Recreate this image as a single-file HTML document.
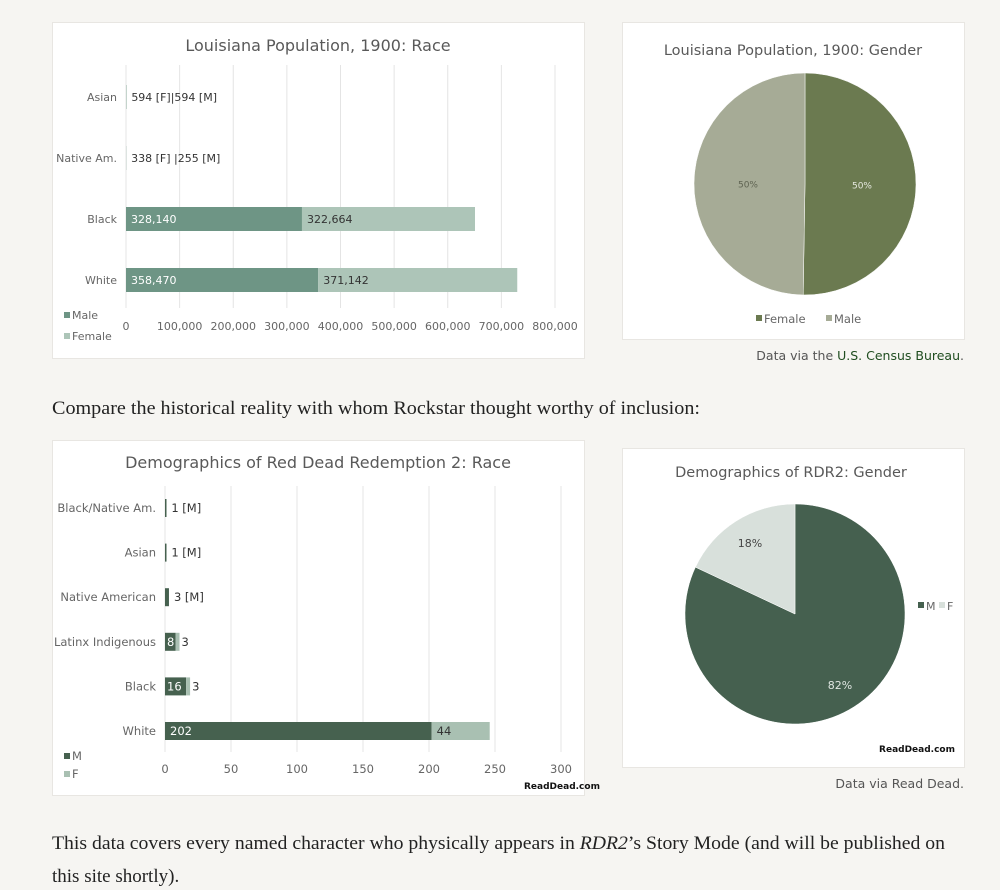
<!DOCTYPE html>
<html><head><meta charset="utf-8"><style>
html,body{margin:0;padding:0;background:#f6f5f2;}
svg{display:block;}
.sans{font-family:"DejaVu Sans","Liberation Sans",sans-serif;}
.serif{font-family:"Liberation Serif",serif;}
</style></head><body>
<svg id="page" width="1000" height="890" viewBox="0 0 1000 890" xmlns="http://www.w3.org/2000/svg">
<rect x="0" y="0" width="1000" height="890" fill="#f6f5f2"/>
<!-- boxes -->
<rect x="52.5" y="22.5" width="532" height="336" fill="#fff" stroke="#e8e6e2"/>
<rect x="622.5" y="22.5" width="342" height="317" fill="#fff" stroke="#e8e6e2"/>
<rect x="52.5" y="440.5" width="532" height="355" fill="#fff" stroke="#e8e6e2"/>
<rect x="622.5" y="448.5" width="342" height="319" fill="#fff" stroke="#e8e6e2"/>
<g id="c1"></g><g id="c2"></g><g id="c3"></g><g id="c4"></g>
<text class="sans" x="318" y="51" font-size="16" fill="#595959" text-anchor="middle">Louisiana Population, 1900: Race</text>
<text class="sans" x="318" y="468" font-size="16" fill="#595959" text-anchor="middle">Demographics of Red Dead Redemption 2: Race</text>
<text class="sans" x="793" y="55" font-size="14.5" fill="#595959" text-anchor="middle">Louisiana Population, 1900: Gender</text>
<text class="sans" x="791" y="477" font-size="14.5" fill="#595959" text-anchor="middle">Demographics of RDR2: Gender</text>
<text class="sans" x="964" y="360" font-size="12.5" fill="#555" text-anchor="end">Data via the <tspan fill="#1f4d1f">U.S. Census Bureau</tspan>.</text>
<text class="sans" x="964" y="788" font-size="12.5" fill="#555" text-anchor="end">Data via Read Dead.</text>
<text class="serif" x="52" y="414" font-size="19" fill="#222" textLength="648" lengthAdjust="spacingAndGlyphs">Compare the historical reality with whom Rockstar thought worthy of inclusion:</text>
<text class="serif" x="52" y="849" font-size="19" fill="#222" textLength="893" lengthAdjust="spacingAndGlyphs">This data covers every named character who physically appears in <tspan font-style="italic">RDR2</tspan>’s Story Mode (and will be published on</text>
<text class="serif" x="52" y="882" font-size="19" fill="#222">this site shortly).</text>
</svg>
<script>
const NS='http://www.w3.org/2000/svg';
// Chart 1: Louisiana race
const laCats=['Asian','Native Am.','Black','White'];
const laMale=[594,255,328140,358470];
const laFemale=[594,338,322664,371142];
const laTicks=[0,100000,200000,300000,400000,500000,600000,700000,800000];
const laNotes=['594 [F]|594 [M]','338 [F] |255 [M]','',''];
// Chart 3: RDR2 race
const rdCats=['Black/Native Am.','Asian','Native American','Latinx Indigenous','Black','White'];
const rdMale=[1,1,3,8,16,202];
const rdFemale=[0,0,0,3,3,44];
const rdTicks=[0,50,100,150,200,250,300];
const rdNotes=['1 [M]','1 [M]','3 [M]','','',''];
// Pies
const laGenderLabels=['Female','Male'];
const laGenderValues=[50.26,49.74];
const rdGenderLabels=['M','F'];
const rdGenderValues=[82,18];

function el(tag,attrs,parent,txt){const e=document.createElementNS(NS,tag);for(const k in attrs)e.setAttribute(k,attrs[k]);if(txt!==undefined)e.textContent=txt;parent.appendChild(e);return e;}
function fmt(v){return v.toLocaleString('en-US');}

function barChart(g,cats,male,female,ticks,notes,o){
  const x=v=>o.x0+(v-ticks[0])/(ticks[ticks.length-1]-ticks[0])*(o.x1-o.x0);
  const y=i=>o.y0+i*o.step;
  ticks.forEach(t=>{
    const l=el('line',{x1:x(t),x2:x(t),y1:o.gTop,y2:o.gBot,stroke:'#e4e4e4','stroke-width':1},g);
    
    
    const tx=el('text',{x:x(t),y:o.tickY,'font-size':o.fs,fill:'#666','text-anchor':'middle',class:'sans'},g,fmt(t));
    
    
  });
  cats.forEach((c,i)=>{
    const cy=y(i);
    const lb=el('text',{x:o.x0-9,y:cy+4,'font-size':o.fs,fill:'#666','text-anchor':'end',class:'sans'},g,c);
    
    
    const wm=x(male[i])-x(0), wf=x(male[i]+female[i])-x(male[i]);
    const bm=el('rect',{x:x(0),y:cy-o.bh/2,width:Math.max(wm,o.minW),height:o.bh,fill:o.cm},g);
    
    
    if(female[i]>0){
      const bf=el('rect',{x:x(male[i]),y:cy-o.bh/2,width:wf,height:o.bh,fill:o.cf},g);
      
      
    }
    if(notes[i]){
      const n=el('text',{x:x(male[i])+o.noteDx,y:cy+4,'font-size':o.fs,fill:'#333',class:'sans'},g,notes[i]);
      
      
    } else {
      const inside=wm>28;
      const m=el('text',{x:x(0)+(inside?5:2),y:cy+4,'font-size':o.fs,fill:'#fff',class:'sans'},g,fmt(male[i]));
      
      
      const f=el('text',{x:x(male[i])+(wf>28?5:wf+2),y:cy+4,'font-size':o.fs,fill:'#333',class:'sans'},g,fmt(female[i]));
      
      
    }
  });
  o.legend.forEach((lg,i)=>{
    const r=el('rect',{x:64,y:o.legY+i*o.legStep-7,width:6,height:6,fill:i?o.cf:o.cm},g);
    
    
    const t=el('text',{x:72,y:o.legY+i*o.legStep,'font-size':o.fs,fill:'#666',class:'sans'},g,lg);
    
    
  });
}
barChart(document.getElementById('c1'),laCats,laMale,laFemale,laTicks,laNotes,
 {x0:126,x1:555,y0:97,step:61,bh:24,gTop:65,gBot:308,tickY:330,fs:11,cm:'#6e9585',cf:'#adc5b8',minW:0,noteDx:5,legend:['Male','Female'],legY:319,legStep:21});
barChart(document.getElementById('c3'),rdCats,rdMale,rdFemale,rdTicks,rdNotes,
 {x0:165,x1:561,y0:508,step:44.6,bh:18,gTop:486,gBot:752,tickY:773,fs:11.5,cm:'#46614f',cf:'#a9c0b2',minW:1.5,noteDx:5,legend:['M','F'],legY:760,legStep:18});
// fix small segment label positions for RDR2 (values shown near bar)
const wm=document.createElementNS(NS,'text');
wm.setAttribute('x',524);wm.setAttribute('y',789);wm.setAttribute('font-size','9');wm.setAttribute('font-weight','bold');wm.setAttribute('fill','#111');wm.setAttribute('class','sans');wm.textContent='ReadDead.com';


document.getElementById('c3').appendChild(wm);

function pie(g,labels,values,cx,cy,r,colors,labelColors,labR){
  const tot=values.reduce((a,b)=>a+b,0);let a0=-Math.PI/2;
  values.forEach((v,i)=>{
    const a1=a0+v/tot*2*Math.PI;
    const large=(a1-a0)>Math.PI?1:0;
    const p=el('path',{d:`M${cx},${cy} L${cx+r*Math.cos(a0)},${cy+r*Math.sin(a0)} A${r},${r} 0 ${large} 1 ${cx+r*Math.cos(a1)},${cy+r*Math.sin(a1)} Z`,fill:colors[i],stroke:'#fff','stroke-width':0.5},g);
    
    
    const am=(a0+a1)/2;
    const t=el('text',{x:cx+labR*Math.cos(am),y:cy+labR*Math.sin(am)+4,'font-size':labR>60?11:9,fill:labelColors[i],'text-anchor':'middle',class:'sans'},g,Math.round(v/tot*100)+'%');
    
    
    a0=a1;
  });
}
const g2=document.getElementById('c2');
pie(g2,laGenderLabels,laGenderValues,805,184,111,['#6b7a50','#a6ab96'],['#e6e9df','#5f6452'],57);
[['Female',756,'#6b7a50'],['Male',826,'#a6ab96']].forEach((d,i)=>{
  const r=el('rect',{x:d[1],y:315,width:6,height:6,fill:d[2]},g2);
  
  
  const t=el('text',{x:d[1]+8,y:323,'font-size':11.5,fill:'#666',class:'sans'},g2,laGenderLabels[i]);
  
  
});
const g4=document.getElementById('c4');
pie(g4,rdGenderLabels,rdGenderValues,795,614,110,['#45604f','#d8e0db'],['#dfe6e1','#444'],84);
[['M',918,'#45604f'],['F',939,'#d8e0db']].forEach((d,i)=>{
  const r=el('rect',{x:d[1],y:602,width:6,height:6,fill:d[2]},g4);
  
  
  const t=el('text',{x:d[1]+8,y:610,'font-size':11,fill:'#666',class:'sans'},g4,rdGenderLabels[i]);
  
  
});
const wm2=el('text',{x:955,y:752,'font-size':9,'font-weight':'bold',fill:'#111','text-anchor':'end',class:'sans'},g4,'ReadDead.com');


</script>
</body></html>
